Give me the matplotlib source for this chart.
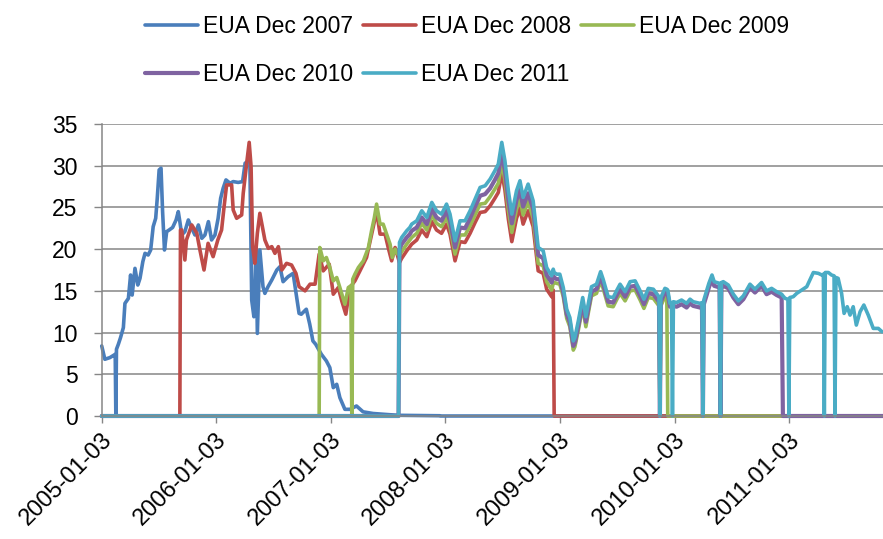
import matplotlib
matplotlib.use("Agg")
import matplotlib.pyplot as plt
import matplotlib.transforms as mtransforms
import pandas as pd

plt.rcParams['font.family'] = ['Liberation Sans', 'DejaVu Sans']

# EUA Dec 2007 (blue)
dec07_dates = ['2005-01-03', '2005-01-13', '2005-01-29', '2005-02-11', '2005-02-15', '2005-02-17', '2005-02-19', '2005-02-25', '2005-03-04', '2005-03-13',
               '2005-03-18', '2005-03-29', '2005-04-05', '2005-04-10', '2005-04-19', '2005-04-28', '2005-05-05', '2005-05-14', '2005-05-21', '2005-05-31',
               '2005-06-08', '2005-06-16', '2005-06-24', '2005-06-29', '2005-07-05', '2005-07-11', '2005-07-16', '2005-07-22', '2005-07-29', '2005-08-06',
               '2005-08-17', '2005-08-28', '2005-09-04', '2005-09-09', '2005-09-15', '2005-09-25', '2005-10-06', '2005-10-17', '2005-10-27', '2005-11-07',
               '2005-11-18', '2005-11-28', '2005-12-09', '2005-12-19', '2005-12-30', '2006-01-09', '2006-01-17', '2006-01-25', '2006-02-03', '2006-02-16',
               '2006-02-26', '2006-03-14', '2006-03-28', '2006-04-05', '2006-04-20', '2006-04-26', '2006-05-03', '2006-05-10', '2006-05-14', '2006-05-22',
               '2006-06-01', '2006-06-07', '2006-06-17', '2006-06-29', '2006-07-15', '2006-07-25', '2006-08-04', '2006-08-20', '2006-09-05', '2006-09-16',
               '2006-09-24', '2006-10-01', '2006-10-17', '2006-10-28', '2006-11-07', '2006-11-16', '2006-12-04', '2006-12-20', '2006-12-31', '2007-01-11',
               '2007-01-22', '2007-02-01', '2007-02-17', '2007-03-05', '2007-03-26', '2007-04-16', '2007-05-18', '2007-07-11', '2007-08-12', '2007-12-17',
               '2007-12-18', '2011-10-29']
dec07_vals = [8.4, 6.8, 7.0, 7.3, 7.4, 0, 8.0, 8.6, 9.4, 10.6,
              13.5, 14.1, 16.9, 14.5, 17.7, 15.7, 16.5, 18.5, 19.5, 19.3,
              19.9, 22.7, 23.7, 26.1, 29.5, 29.7, 24.5, 19.9, 22.1, 22.3,
              22.6, 23.5, 24.5, 23.3, 21.7, 22.1, 23.5, 22.5, 21.7, 22.9,
              21.3, 21.7, 23.3, 21.1, 21.7, 23.7, 26.1, 27.3, 28.3, 27.9,
              28.1, 28.0, 28.1, 30.3, 30.7, 13.9, 11.9, 20.3, 9.9, 19.9,
              15.5, 14.7, 15.5, 16.3, 17.5, 17.9, 16.1, 16.7, 17.1, 14.3,
              12.3, 12.2, 12.8, 11.0, 9.0, 8.6, 7.4, 6.6, 5.8, 3.4,
              3.8, 2.2, 0.8, 0.8, 1.2, 0.5, 0.3, 0.15, 0.08, 0.03,
              0, 0]

# EUA Dec 2008 (red), before Aug 2007
dec08_early_dates = ['2005-01-03', '2005-09-09', '2005-09-11', '2005-09-15', '2005-09-25', '2005-09-30', '2005-10-17', '2005-11-02', '2005-11-12', '2005-11-25',
                     '2005-12-08', '2005-12-24', '2006-01-08', '2006-01-20', '2006-01-28', '2006-02-05', '2006-02-21', '2006-02-26', '2006-03-09', '2006-03-25',
                     '2006-03-30', '2006-04-10', '2006-04-18', '2006-04-24', '2006-04-29', '2006-05-06', '2006-05-14', '2006-05-22', '2006-05-30', '2006-06-07',
                     '2006-06-18', '2006-06-29', '2006-07-09', '2006-07-20', '2006-07-31', '2006-08-15', '2006-08-31', '2006-09-14', '2006-09-24', '2006-10-13',
                     '2006-10-29', '2006-11-14', '2006-11-27', '2006-12-10', '2006-12-29', '2007-01-11', '2007-01-27', '2007-02-07', '2007-02-20', '2007-03-05',
                     '2007-03-21', '2007-04-06', '2007-04-27', '2007-05-18', '2007-05-29', '2007-06-09', '2007-06-25', '2007-07-05', '2007-07-16', '2007-07-27']
dec08_early_vals = [0, 0, 22.3, 22.3, 18.7, 21.1, 22.9, 21.9, 19.9, 17.5,
                    20.7, 19.1, 21.1, 22.3, 25.1, 27.7, 27.7, 24.7, 23.7, 24.1,
                    26.7, 30.3, 32.8, 29.9, 20.3, 18.3, 21.9, 24.3, 22.7, 21.1,
                    20.1, 20.3, 19.5, 20.3, 17.5, 18.3, 18.1, 17.1, 15.5, 15.0,
                    15.8, 15.8, 19.4, 17.4, 18.2, 14.6, 15.4, 13.8, 12.2, 15.4,
                    16.2, 17.4, 19.0, 22.6, 24.6, 21.8, 21.8, 20.2, 18.6, 20.2]

# EUA Dec 2009 (green), before Aug 2007
dec09_early_dates = ['2005-01-03', '2006-11-27', '2006-11-29', '2006-12-10', '2006-12-20', '2006-12-31', '2007-01-11', '2007-01-22', '2007-02-01', '2007-02-17',
                     '2007-02-28', '2007-03-08', '2007-03-11', '2007-03-14', '2007-03-21', '2007-04-01', '2007-04-17', '2007-05-03', '2007-05-13', '2007-05-22',
                     '2007-05-29', '2007-06-09', '2007-06-19', '2007-06-30', '2007-07-11', '2007-07-18', '2007-07-27', '2007-08-04']
dec09_early_vals = [0, 0, 20.2, 18.6, 19.0, 17.8, 16.2, 16.6, 15.4, 13.4,
                    15.4, 15.6, 0, 16.4, 17.0, 17.8, 18.6, 20.2, 22.2, 23.8,
                    25.4, 23.0, 23.0, 21.8, 20.6, 19.0, 20.0, 19.4]

# shared trading dates from Aug 2007 on
late_dates = ['2007-08-07', '2007-08-10', '2007-08-17', '2007-09-02', '2007-09-12', '2007-09-18', '2007-10-04', '2007-10-20', '2007-11-05', '2007-11-21',
              '2007-12-06', '2007-12-22', '2008-01-07', '2008-01-18', '2008-02-03', '2008-02-19', '2008-03-06', '2008-03-22', '2008-04-07', '2008-04-23',
              '2008-05-09', '2008-05-25', '2008-06-09', '2008-06-20', '2008-07-01', '2008-07-11', '2008-07-22', '2008-08-02', '2008-08-17', '2008-08-28',
              '2008-09-07', '2008-09-23', '2008-10-09', '2008-10-25', '2008-11-10', '2008-11-21', '2008-12-07', '2008-12-12', '2008-12-15', '2008-12-23',
              '2009-01-02', '2009-01-13', '2009-01-24', '2009-02-03', '2009-02-14', '2009-02-19', '2009-03-02', '2009-03-16', '2009-03-26', '2009-04-03',
              '2009-04-13', '2009-04-29', '2009-05-12', '2009-05-20', '2009-06-05', '2009-06-21', '2009-07-03', '2009-07-13', '2009-07-29', '2009-08-14',
              '2009-08-30', '2009-09-15', '2009-09-27', '2009-10-11', '2009-10-27', '2009-11-14', '2009-11-17', '2009-11-20', '2009-12-03', '2009-12-09',
              '2009-12-12', '2009-12-19', '2009-12-24', '2009-12-27', '2009-12-30', '2010-01-09', '2010-01-25', '2010-02-10', '2010-02-21', '2010-03-03',
              '2010-03-25', '2010-03-31', '2010-04-03', '2010-04-06', '2010-04-15', '2010-04-22', '2010-05-02', '2010-05-09', '2010-05-18', '2010-05-26',
              '2010-05-29', '2010-06-01', '2010-06-07', '2010-06-23', '2010-07-09', '2010-07-25', '2010-08-10', '2010-08-31', '2010-09-16', '2010-10-07',
              '2010-10-23', '2010-11-08', '2010-11-24', '2010-12-10', '2010-12-14', '2010-12-21', '2010-12-30', '2011-01-02', '2011-01-05', '2011-01-16',
              '2011-01-27', '2011-02-12', '2011-02-28', '2011-03-10', '2011-03-21', '2011-04-06', '2011-04-17', '2011-04-22', '2011-04-25', '2011-04-28',
              '2011-05-08', '2011-05-18', '2011-05-26', '2011-05-29', '2011-06-01', '2011-06-08', '2011-06-19', '2011-06-27', '2011-07-07', '2011-07-16',
              '2011-07-26', '2011-08-05', '2011-08-17', '2011-08-29', '2011-09-12', '2011-09-28', '2011-10-14', '2011-10-26']

dec08_late = [18.8, 18.4, 18.9, 19.8, 20.3, 20.6, 21.1, 22.3, 21.5, 23.3,
              22.3, 21.9, 23.0, 21.8, 18.6, 20.9, 20.8, 21.9, 23.2, 24.4,
              24.5, 25.2, 26.1, 26.8, 29.2, 27.1, 23.6, 20.9, 23.7, 24.9,
              23.0, 24.6, 22.7, 17.4, 17.1, 15.2, 14.3, 15.1, 0]

dec09_late = [19.6, 19.2, 19.7, 20.6, 21.1, 21.4, 21.9, 23.1, 22.3, 24.1,
              23.1, 22.7, 23.8, 22.6, 19.4, 21.7, 21.7, 22.8, 24.1, 25.4,
              25.5, 26.3, 27.2, 27.9, 30.4, 28.3, 24.7, 22.0, 24.8, 26.0,
              24.1, 25.7, 23.7, 18.3, 18.0, 16.1, 15.1, 15.9, 16.0, 15.9,
              15.8, 14.3, 11.7, 10.7, 7.9, 8.3, 10.3, 13.1, 10.7, 12.4,
              14.4, 14.7, 16.2, 15.3, 13.2, 13.1, 14.0, 14.7, 13.8, 15.0,
              15.1, 13.9, 12.9, 14.2, 14.1, 13.2, 0, 13.2, 14.3, 14.2,
              0]

dec10_late = [0, 20.0, 20.6, 21.4, 21.8, 22.2, 22.6, 23.8, 23.0, 24.8,
              23.8, 23.4, 24.6, 23.4, 20.2, 22.6, 22.5, 23.7, 25.1, 26.4,
              26.6, 27.3, 28.3, 29.1, 31.6, 29.4, 25.9, 23.1, 25.9, 27.1,
              25.1, 26.7, 24.8, 19.3, 18.9, 16.9, 16.0, 16.8, 16.6, 16.4,
              16.4, 14.8, 12.2, 11.2, 8.4, 8.8, 10.8, 13.6, 11.3, 12.9,
              14.9, 15.2, 16.7, 15.8, 13.7, 13.6, 14.5, 15.2, 14.3, 15.5,
              15.6, 14.4, 13.4, 14.7, 14.6, 13.7, 0, 13.7, 14.8, 14.7,
              14.6, 13.1, 13.2, 13.2, 13.2, 13.1, 13.4, 13.0, 13.5, 13.2,
              13.0, 13.1, 0, 13.4, 14.5, 15.4, 16.4, 15.6, 15.5, 15.4,
              0, 15.5, 15.6, 15.3, 14.2, 13.4, 14.0, 15.4, 14.8, 15.6,
              14.6, 14.9, 14.5, 14.2, 0]

dec11_late = [0, 20.8, 21.4, 22.2, 22.6, 23.0, 23.4, 24.6, 23.8, 25.6,
              24.6, 24.2, 25.4, 24.2, 21.0, 23.4, 23.4, 24.6, 26.0, 27.4,
              27.6, 28.4, 29.4, 30.2, 32.8, 30.6, 27.0, 24.2, 27.0, 28.2,
              26.2, 27.8, 25.8, 20.2, 19.8, 17.8, 16.8, 17.6, 17.2, 17.0,
              17.0, 15.4, 12.8, 11.8, 9.0, 9.4, 11.4, 14.2, 11.9, 13.5,
              15.5, 15.8, 17.3, 16.4, 14.3, 14.2, 15.1, 15.8, 14.9, 16.1,
              16.2, 15.0, 14.0, 15.3, 15.2, 14.3, 0, 14.2, 15.3, 15.2,
              15.1, 13.5, 13.6, 0, 13.7, 13.6, 13.9, 13.5, 14.0, 13.7,
              13.5, 13.6, 0, 13.9, 15.0, 15.9, 16.9, 16.1, 16.0, 15.9,
              0, 16.0, 16.1, 15.7, 14.6, 13.8, 14.4, 15.8, 15.2, 16.0,
              15.0, 15.3, 14.9, 14.6, 14.4, 14.1, 14.0, 0, 14.2, 14.3,
              14.7, 15.1, 15.5, 16.3, 17.2, 17.1, 16.9, 17.0, 0, 17.2,
              17.2, 16.9, 16.8, 0, 16.6, 16.5, 14.7, 12.3, 13.1, 12.1,
              13.1, 10.9, 12.5, 13.3, 12.1, 10.5, 10.5, 10.1]

start_date = '2005-01-03'
end_date = '2011-10-29'
tick_dates = ['2005-01-03', '2006-01-03', '2007-01-03', '2008-01-03', '2009-01-03', '2010-01-03', '2011-01-03']

names = ['EUA Dec 2007', 'EUA Dec 2008', 'EUA Dec 2009', 'EUA Dec 2010', 'EUA Dec 2011']
colors = ['#4A7EBB', '#BE4B48', '#98B954', '#7F63A1', '#4AACC5']
widths = [2.6, 2.6, 2.6, 3.0, 2.6]

n08 = len(dec08_late)
n09 = len(dec09_late)
n10 = len(dec10_late)
series = [
    (dec07_dates, dec07_vals),
    (dec08_early_dates + late_dates[:n08] + [end_date], dec08_early_vals + dec08_late + [0]),
    (dec09_early_dates + late_dates[:n09] + [end_date], dec09_early_vals + dec09_late + [0]),
    ([start_date] + late_dates[:n10] + [end_date], [0] + dec10_late + [0]),
    ([start_date] + late_dates, [0] + dec11_late),
]
for d, v in series:
    assert len(d) == len(v)

fig = plt.figure(figsize=(8.83, 5.39), dpi=100)
ax = fig.add_axes([0.1152, 0.2282, 0.8848, 0.5417])

lines = []
for (d, v), name, c, lw in zip(series, names, colors, widths):
    ln, = ax.plot(pd.to_datetime(d), v, color=c, lw=lw, label=name, clip_on=False,
                  solid_joinstyle='round', solid_capstyle='round')
    lines.append(ln)

ax.set_xlim(pd.Timestamp(start_date), pd.Timestamp(end_date))
ax.set_ylim(0, 35)
ax.set_yticks(range(0, 36, 5))
ax.yaxis.grid(True, color='#868686', lw=1.1)
ax.set_axisbelow(True)
for s in ['top', 'right']:
    ax.spines[s].set_visible(False)
for s in ['left', 'bottom']:
    ax.spines[s].set_color('#868686')
    ax.spines[s].set_linewidth(1.1)

ax.set_xticks(pd.to_datetime(tick_dates))
ax.set_xticklabels(tick_dates, rotation=45, ha='right', va='center', rotation_mode='anchor')
ax.tick_params(axis='x', length=5, width=1, color='#868686', pad=10, labelsize=17)
ax.tick_params(axis='y', length=6, width=1, color='#868686', pad=11.5, labelsize=16.5)
shift = mtransforms.ScaledTranslation(7 / 100, 0, fig.dpi_scale_trans)
for lab in ax.get_xticklabels():
    lab.set_transform(lab.get_transform() + shift)

order = [0, 3, 1, 4, 2]
fig.legend([lines[i] for i in order], [names[i] for i in order], ncol=3,
           loc='center', bbox_to_anchor=(0.529, 0.907), frameon=False,
           fontsize=16.5, handlelength=2.3, handletextpad=0.22,
           columnspacing=0.45, labelspacing=1.1, borderpad=0)

fig.savefig('out.png', dpi=100)
